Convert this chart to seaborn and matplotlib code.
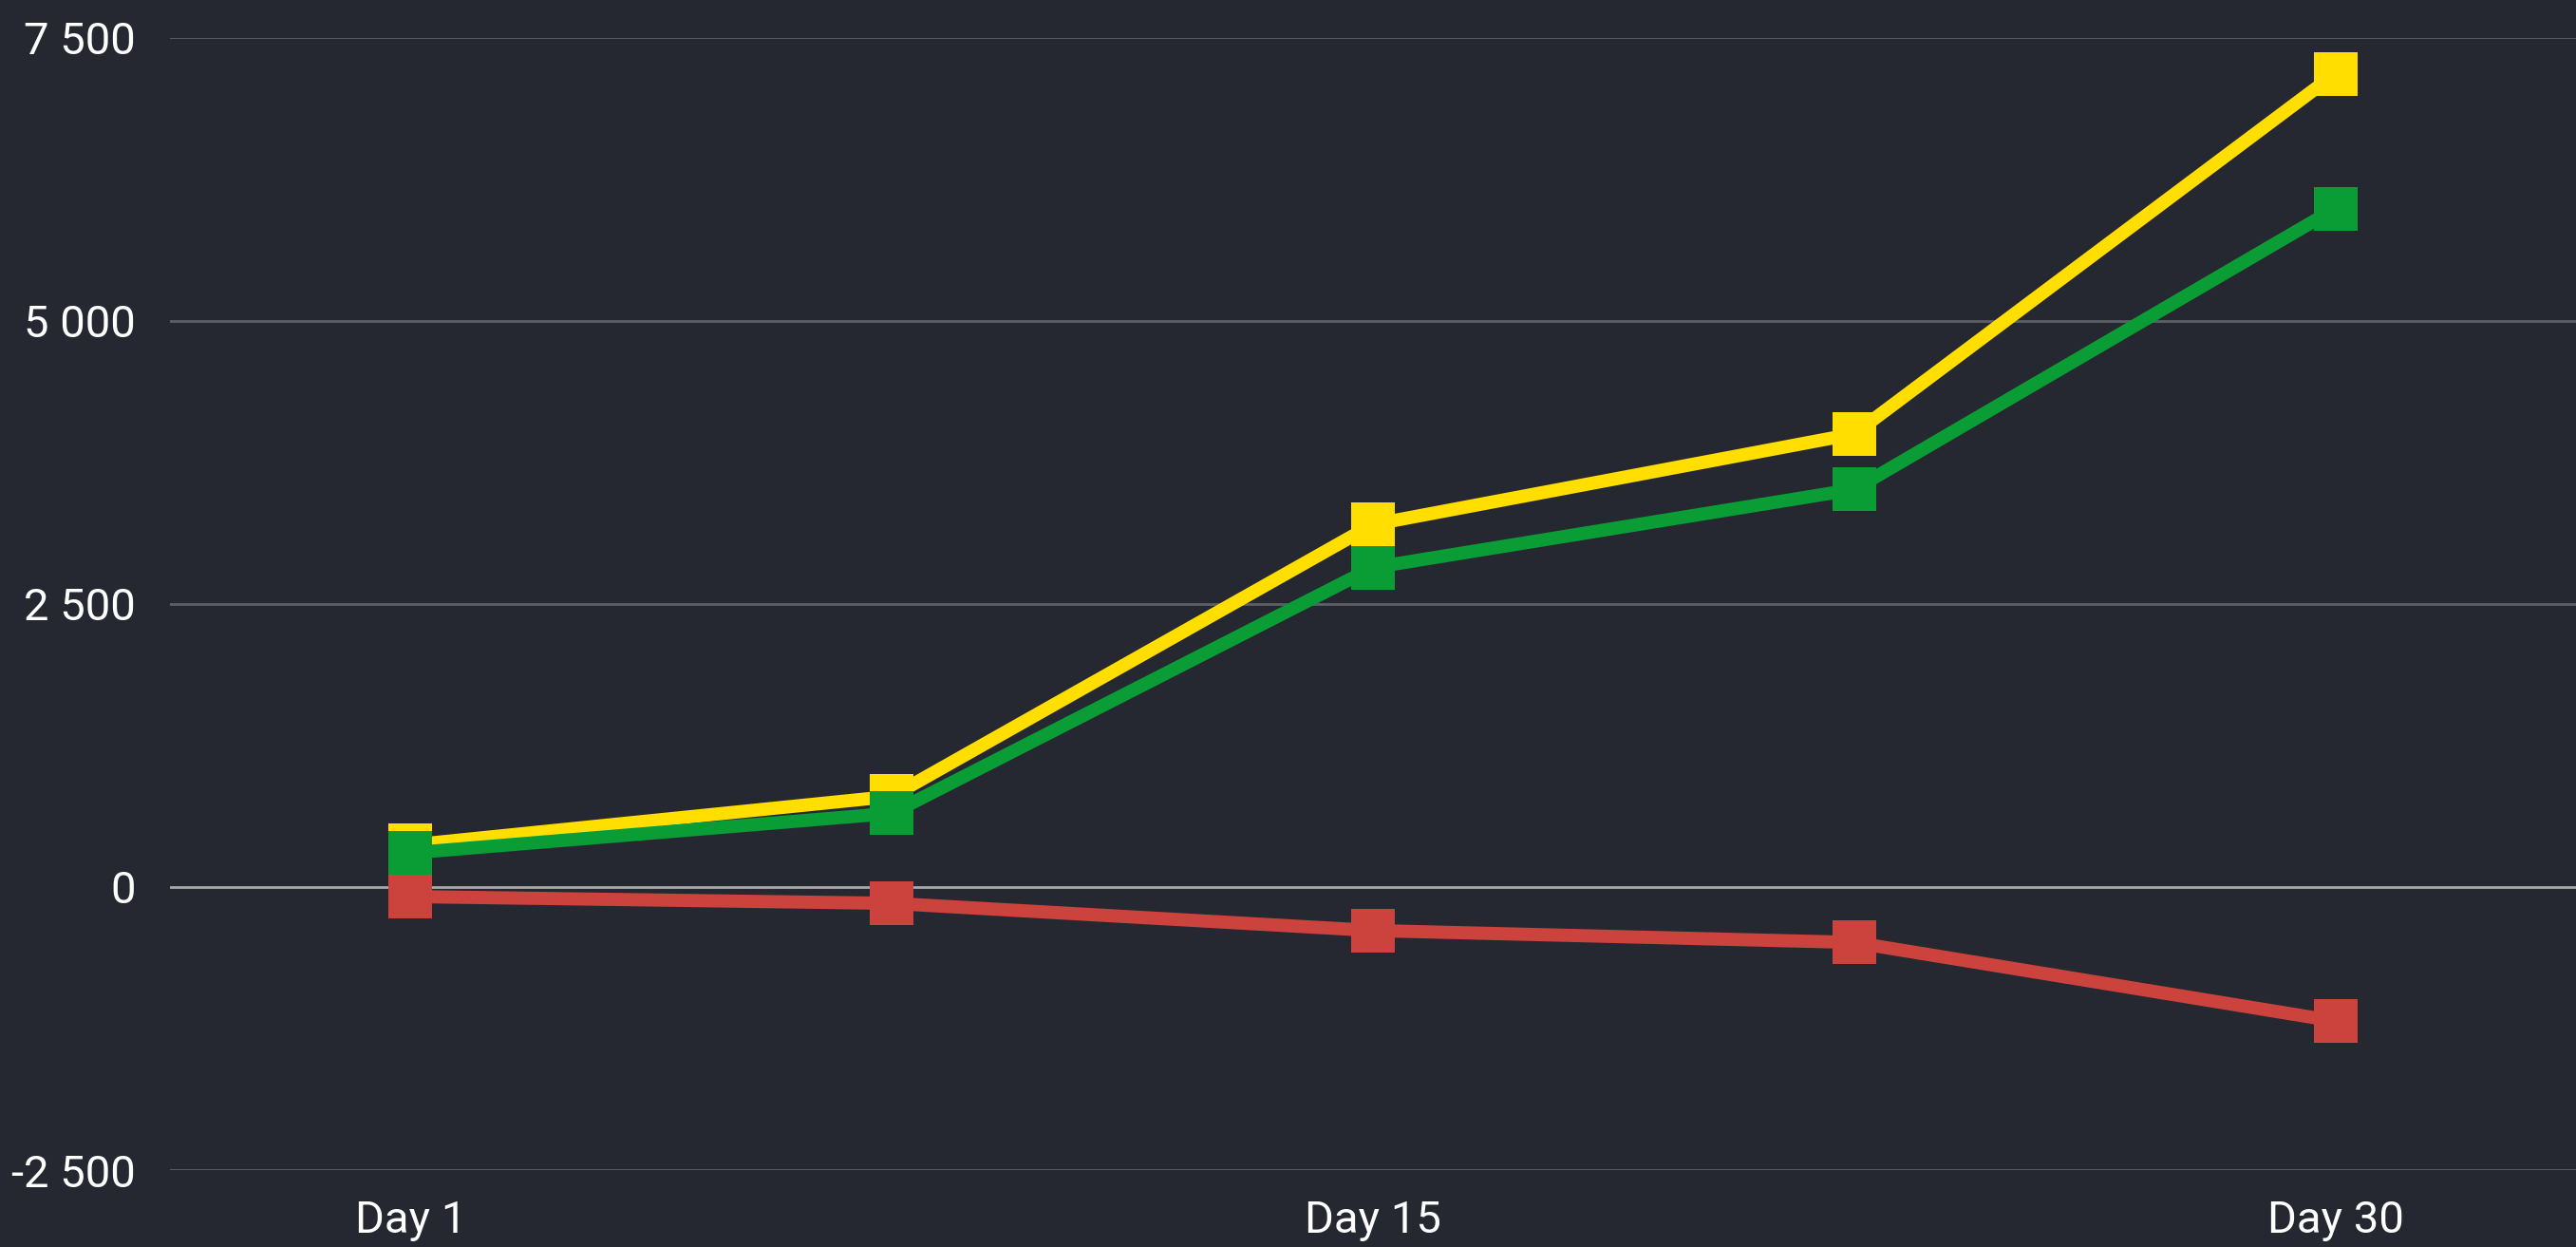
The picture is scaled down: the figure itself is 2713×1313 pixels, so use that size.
import matplotlib.pyplot as plt
import numpy as np
import pandas as pd
import seaborn as sns

DAYS = ["Day 1", "Day 8", "Day 15", "Day 22", "Day 30"]
SHOWN_DAYS = ["Day 1", "Day 15", "Day 30"]
SERIES = ["yellow", "green", "red"]
YELLOW = [370, 800, 3200, 4000, 7180]
GREEN = [300, 650, 2820, 3510, 5990]
RED = [-85, -145, -385, -490, -1185]
Y_TICKS = [-2500, 0, 2500, 5000, 7500]

COLORS = {"yellow": "#FFDE00", "green": "#0A9C35", "red": "#CC433D"}
BG = "#252830"

frame = pd.DataFrame({
    "day": DAYS * 3,
    "pos": list(range(len(DAYS))) * 3,
    "series": [s for s in SERIES for _ in DAYS],
    "value": YELLOW + GREEN + RED,
})

sns.set_theme(style="dark")
plt.rcParams["font.family"] = ["Roboto", "DejaVu Sans"]

fig = plt.figure(figsize=(27.13, 13.13), dpi=100, facecolor=BG)
ax = fig.add_axes([179 / 2713, 1 - 1232 / 1313, 1 - 179 / 2713, (1232 - 39.5) / 1313])
ax.set_facecolor(BG)

for tick in Y_TICKS:
    ax.axhline(tick, color="#a8a8aa" if tick == 0 else "#5c5f65", lw=2, zorder=1)

sns.lineplot(
    data=frame,
    x="pos",
    y="value",
    hue="series",
    hue_order=SERIES,
    palette=COLORS,
    marker="s",
    markersize=33,
    markeredgewidth=0,
    linewidth=10,
    legend=False,
    ax=ax,
    zorder=3,
)

ax.set_xlim(-0.5, len(DAYS) - 0.5)
ax.set_ylim(Y_TICKS[0], Y_TICKS[-1])
ax.set_xticks([DAYS.index(d) for d in SHOWN_DAYS])
ax.set_xticklabels(SHOWN_DAYS)
ax.set_yticks(Y_TICKS)
ax.yaxis.set_major_formatter(plt.FuncFormatter(lambda v, _: f"{v:,.0f}".replace(",", " ")))
ax.tick_params(axis="both", colors="white", labelsize=34, length=0)
ax.tick_params(axis="y", pad=26)
ax.tick_params(axis="x", pad=22)
ax.set_xlabel("")
ax.set_ylabel("")
ax.grid(False)
for spine in ax.spines.values():
    spine.set_visible(False)

fig.savefig("out.png", dpi=100, facecolor=BG)
